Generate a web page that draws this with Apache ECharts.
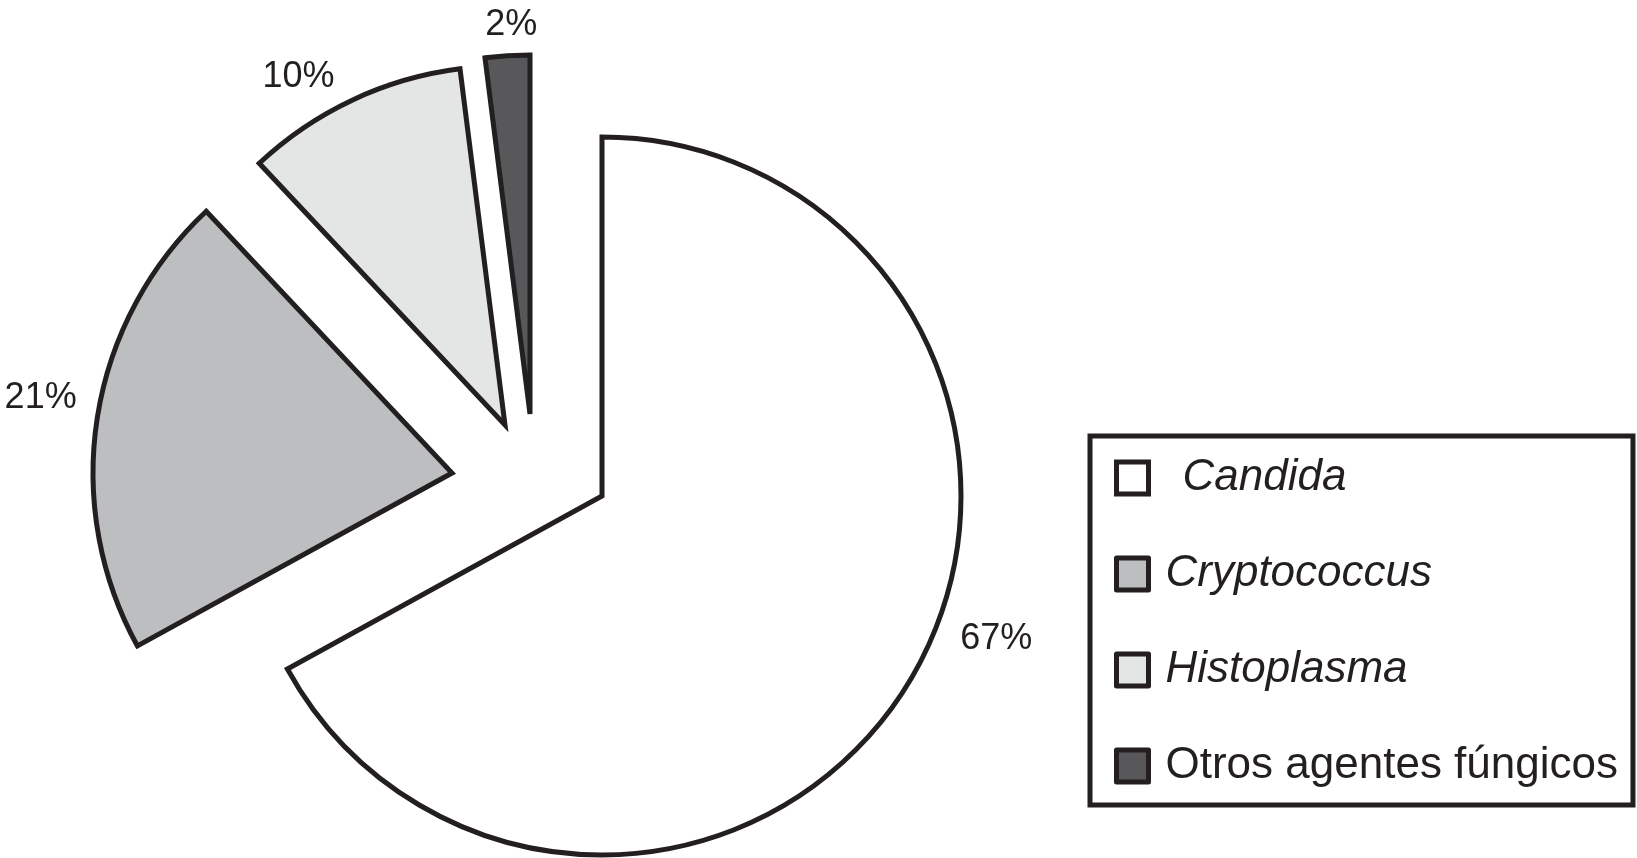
<!DOCTYPE html>
<html>
<head>
<meta charset="utf-8">
<title>Agentes fúngicos</title>
<script src="https://cdn.jsdelivr.net/npm/echarts@6/dist/echarts.min.js"></script>
<style>
  html, body { margin: 0; padding: 0; background: #fff; }
  #chart { width: 1637px; height: 858px; }
</style>
</head>
<body>
<div id="chart"></div>
<script>
const categories = ['Candida', 'Cryptococcus', 'Histoplasma', 'Otros agentes fúngicos'];
const shares = [67, 21, 10, 2];
const italicNames = ['Candida', 'Cryptococcus', 'Histoplasma'];

const fills = ['#ffffff', '#bcbec0', '#e4e6e5', '#58585b'];
const ink = '#231f20';
const font = '"Liberation Sans", Arial, Helvetica, sans-serif';
// every slice is pulled out on its own, so each one gets its own centre
const sliceCenters = [[602, 496], [452, 473], [505, 425], [530, 414]];
const labelNudge = [[27, -50], [4, -16], [-4, -5], [36, -11]];
const legendIndent = [29, 12, 12, 12];

const chart = echarts.init(document.getElementById('chart'));

const series = categories.map((_, k) => ({
  type: 'pie',
  silent: true,
  animation: false,
  center: sliceCenters[k],
  radius: 359,
  startAngle: 90,
  clockwise: true,
  avoidLabelOverlap: false,
  label: {
    position: 'outside',
    formatter: '{c}%',
    color: ink,
    fontSize: 36,
    fontFamily: font,
    distanceToLabelLine: 5
  },
  labelLine: { show: false, length: 20, length2: 0 },
  labelLayout: { dx: labelNudge[k][0], dy: labelNudge[k][1] },
  data: categories.map((name, i) => ({
    name: name,
    value: shares[i],
    itemStyle: i === k
      ? { color: fills[i], borderColor: ink, borderWidth: 5, borderJoin: 'miter' }
      : { color: 'rgba(0,0,0,0)', borderWidth: 0 },
    label: { show: i === k }
  }))
}));

const rich = {};
categories.forEach((name, i) => {
  rich['t' + i] = {
    fontSize: 44,
    lineHeight: 50,
    fontFamily: font,
    color: ink,
    fontStyle: italicNames.indexOf(name) >= 0 ? 'italic' : 'normal',
    padding: [0, 0, 0, legendIndent[i]]
  };
});

let option = {
  backgroundColor: '#ffffff',
  legend: {
    orient: 'vertical',
    left: 1090,
    top: 436,
    padding: [17, 15, 14, 24],
    itemGap: 46,
    itemWidth: 32,
    itemHeight: 32,
    borderColor: ink,
    borderWidth: 5,
    selectedMode: false,
    itemStyle: { borderColor: ink, borderWidth: 5 },
    data: categories.map((name, i) => ({ name: name, icon: 'rect', itemStyle: { color: fills[i] } })),
    formatter: name => '{t' + categories.indexOf(name) + '|' + name + '}',
    textStyle: { fontSize: 44, lineHeight: 50, fontFamily: font, color: ink, rich: rich }
  },
  series: series
};
chart.setOption(option);
window.addEventListener('resize', () => { chart && chart.resize(); });
</script>
</body>
</html>
